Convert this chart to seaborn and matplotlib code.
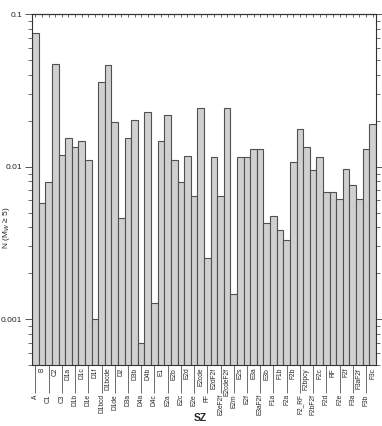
import matplotlib
matplotlib.use("Agg")
import matplotlib.pyplot as plt
import matplotlib.ticker as mticker
import pandas as pd
import seaborn as sns

# seismic source zones
zones = ['A', 'B', 'C1', 'C2', 'C3', 'D1a', 'D1b', 'D1c', 'D1e', 'D1f',
         'D1bcd', 'D1bcde', 'D1de', 'D2', 'D3a', 'D3b', 'D4a', 'D4b', 'D4c', 'E1',
         'E2a', 'E2b', 'E2c', 'E2d', 'E2e', 'E2cde', 'FF', 'E2dF2f', 'E2eF2f', 'E2cdeF2f',
         'E2m', 'E2s', 'E2f', 'E3a', 'E3aF2f', 'E3b', 'F1a', 'F1b', 'F2a', 'F2b',
         'F2_RF', 'F2bpcy', 'F2bF2f', 'F2c', 'F2d', 'RF', 'F2e', 'F2f', 'F3a', 'F3aF2f',
         'F3b', 'F3c']

# annual rate of Mw >= 5 events
rate = [0.0755, 0.0058, 0.0079, 0.0471, 0.0120, 0.0153, 0.0134, 0.0147, 0.0111, 0.00101,
        0.0357, 0.0463, 0.0195, 0.0046, 0.0153, 0.0203, 0.0007, 0.0228, 0.00128, 0.0147,
        0.0219, 0.0111, 0.0079, 0.0117, 0.0064, 0.0243, 0.0025, 0.0116, 0.0064, 0.0242,
        0.00147, 0.0116, 0.0116, 0.0130, 0.0130, 0.00426, 0.00475, 0.00385, 0.00331, 0.0107,
        0.0176, 0.0135, 0.0095, 0.0115, 0.0068, 0.0068, 0.0061, 0.0097, 0.0076, 0.0061,
        0.0130, 0.0190]

df = pd.DataFrame({'SZ': zones, 'N': rate})

sns.set_style('ticks')
plt.rcParams['font.family'] = ['Liberation Sans', 'DejaVu Sans']

fig = plt.figure(figsize=(3.82, 4.26), dpi=100)
ax = fig.add_axes([0.084, 0.143, 0.900, 0.824])
ax.set_yscale('log')

sns.barplot(data=df, x='SZ', y='N', ax=ax, width=1.0, color='#d0d0d0',
            saturation=1, edgecolor='#505050', linewidth=0.8)

ax.set_ylim(0.0005, 0.1)
ax.set_xlim(-0.5, len(zones) - 0.5)
ax.yaxis.set_major_locator(mticker.FixedLocator([0.001, 0.01, 0.1]))
ax.yaxis.set_major_formatter(mticker.FixedFormatter(['0.001', '0.01', '0.1']))
ax.yaxis.set_minor_locator(mticker.LogLocator(base=10, subs=range(2, 10)))
ax.yaxis.set_minor_formatter(mticker.NullFormatter())

# staggered zone labels: even ones hang from long ticks
pos = list(range(len(zones)))
ax.set_xticks(pos[0::2], zones[0::2])
ax.set_xticks(pos[1::2], zones[1::2], minor=True)
ax.tick_params(axis='x', which='major', length=20, width=0.6, color='#555555',
               direction='out', labelsize=4.8, labelrotation=90, pad=1)
ax.tick_params(axis='x', which='minor', length=0, labelsize=4.8, labelrotation=90, pad=2)
for lab in ax.get_xticklabels(which='both'):
    lab.set_va('top')

ax.tick_params(axis='y', which='major', length=5, width=0.7, direction='out',
               labelsize=6, right=True, color='#555555', pad=2)
ax.tick_params(axis='y', which='minor', length=3, width=0.6, direction='out',
               right=True, color='#555555')

top = ax.secondary_xaxis('top')
top.set_xticks(pos)
top.tick_params(direction='in', length=2.5, width=0.6, labeltop=False, color='#555555')

for sp in ax.spines.values():
    sp.set_color('#333333')
    sp.set_linewidth(0.8)

ax.set_xlabel('SZ', fontsize=7.5, fontweight='bold')
ax.xaxis.set_label_coords(0.488, -0.152)
ax.xaxis.label.set_va('center')
ax.set_ylabel('N (M$_W$ ≥ 5)', fontsize=6)
ax.yaxis.set_label_coords(-0.073, 0.39)
ax.yaxis.label.set_va('center')

fig.savefig('out.png', dpi=100)
